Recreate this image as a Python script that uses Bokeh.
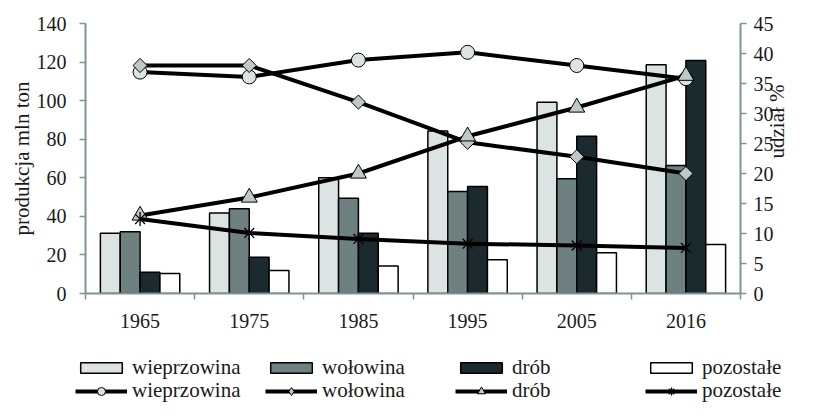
import math
from bokeh.plotting import figure
from bokeh.models import (ColumnDataSource, Range1d, LinearAxis, FixedTicker,
                          Legend, LegendItem)
from bokeh.transform import dodge
from bokeh.embed import file_html
from bokeh.resources import INLINE

# ---- data ----
years = ["1965", "1975", "1985", "1995", "2005", "2016"]
series_names = ["wieprzowina", "wołowina", "drób", "pozostałe"]

# production, mln t (left axis)
prod_wieprzowina = [31.3, 41.8, 60.0, 84.2, 99.2, 118.6]
prod_wolowina = [32.0, 43.9, 49.4, 52.9, 59.5, 66.4]
prod_drob = [11.0, 18.8, 31.3, 55.5, 81.6, 120.8]
prod_pozostale = [10.4, 11.9, 14.2, 17.5, 21.1, 25.4]

# share, % (right axis)
share_wieprzowina = [36.9, 36.1, 38.9, 40.2, 38.0, 35.8]
share_wolowina = [38.0, 38.0, 31.9, 25.2, 22.8, 20.0]
share_drob = [13.0, 16.0, 20.0, 26.2, 31.0, 36.3]
share_pozostale = [12.4, 10.1, 9.1, 8.3, 8.0, 7.6]

left_ticks = [0, 20, 40, 60, 80, 100, 120, 140]
right_ticks = [0, 5, 10, 15, 20, 25, 30, 35, 40, 45]

# ---- styling ----
FONT = "Liberation Serif"
AXIS_COL = "#7f9494"
GRID_COL = "#9aabab"
TXT = "#1a1a1a"
bar_fills = ["#dce3e3", "#6e8080", "#1b2a2e", "#ffffff"]
plot_markers = [
    dict(marker="circle", size=14, fill_color="#dde3e3", angle=0),
    dict(marker="square", size=10, fill_color="#bfc8c8", angle=math.pi / 4),
    dict(marker="triangle", size=16, fill_color="#bfc8c8", angle=0),
]
legend_markers = [
    dict(marker="circle", size=14, fill_color="#dde3e3", angle=0),
    dict(marker="diamond", size=14, fill_color="#bfc8c8", angle=0),
    dict(marker="triangle", size=16, fill_color="#bfc8c8", angle=0),
]

n = len(years)
centers = [i + 0.5 for i in range(n)]
data = dict(
    x=centers, wiep=prod_wieprzowina, wol=prod_wolowina, drob=prod_drob,
    poz=prod_pozostale, s_wiep=share_wieprzowina, s_wol=share_wolowina,
    s_drob=share_drob, s_poz=share_pozostale)
src = ColumnDataSource(data)

W = 803
MAIN_H = 337
LEG_H = 403 - MAIN_H

p = figure(width=W, height=MAIN_H, output_backend="svg", toolbar_location=None,
           x_range=Range1d(0, n), y_range=Range1d(0, 140),
           min_border_left=85, min_border_right=54, min_border_top=23,
           min_border_bottom=44, x_axis_type=None, y_axis_type=None)
p.outline_line_color = None
p.background_fill_color = "white"
p.border_fill_color = "white"
p.extra_y_ranges = {"pct": Range1d(0, 45)}

# axes
xaxis = LinearAxis(ticker=FixedTicker(ticks=centers, minor_ticks=list(range(n + 1))),
                   major_label_overrides={c: y for c, y in zip(centers, years)})
xaxis.major_tick_out = 0
xaxis.major_tick_in = 0
xaxis.minor_tick_out = 6
xaxis.minor_tick_in = 0
p.add_layout(xaxis, "below")

yaxis = LinearAxis(ticker=FixedTicker(ticks=left_ticks), axis_label="produkcja mln ton")
yaxis.major_tick_out = 6
yaxis.major_tick_in = 0
yaxis.minor_tick_out = 0
p.add_layout(yaxis, "left")

raxis = LinearAxis(y_range_name="pct", ticker=FixedTicker(ticks=right_ticks), axis_label="udział %")
raxis.major_tick_out = 6
raxis.major_tick_in = 0
raxis.minor_tick_out = 0
raxis.axis_label_orientation = math.pi / 2
p.add_layout(raxis, "right")

for ax in (xaxis, yaxis, raxis):
    ax.axis_line_color = AXIS_COL
    ax.axis_line_width = 2
    ax.major_tick_line_color = AXIS_COL
    ax.major_tick_line_width = 1.5
    ax.minor_tick_line_color = AXIS_COL
    ax.minor_tick_line_width = 1.5
    ax.major_label_text_font = FONT
    ax.major_label_text_font_size = "20px"
    ax.major_label_text_color = TXT
    ax.axis_label_text_font = FONT
    ax.axis_label_text_font_size = "21px"
    ax.axis_label_text_font_style = "normal"
    ax.axis_label_text_color = TXT
xaxis.major_label_standoff = 14
yaxis.major_label_standoff = 13
yaxis.axis_label_standoff = 0
raxis.major_label_standoff = 7
raxis.axis_label_standoff = 0

p.ygrid.ticker = FixedTicker(ticks=left_ticks)
p.ygrid.grid_line_color = GRID_COL
p.ygrid.grid_line_width = 1.5
p.xgrid.grid_line_color = None

bw = 1.0 / 5.5
offsets = [-1.5 * bw, -0.5 * bw, 0.5 * bw, 1.5 * bw]
fields = ["wiep", "wol", "drob", "poz"]
share_fields = ["s_wiep", "s_wol", "s_drob", "s_poz"]


def draw_series(fig, source, yname, markers, star_parts):
    bars = []
    for f, off, col in zip(fields, offsets, bar_fills):
        r = fig.vbar(x=dodge("x", off), top=f, width=bw, bottom=0, source=source,
                     fill_color=col, line_color="black", line_width=1.5)
        bars.append(r)
    groups = []
    kw = {} if yname is None else {"y_range_name": yname}
    for i, sf in enumerate(share_fields):
        ln = fig.line("x", sf, source=source, line_color="black", line_width=4, **kw)
        g = [ln]
        if i < 3:
            ms = markers[i]
            g.append(fig.scatter("x", sf, source=source, marker=ms["marker"], size=ms["size"],
                                 angle=ms["angle"], fill_color=ms["fill_color"],
                                 line_color="black", line_width=1, **kw))
        else:
            for mk, ang in star_parts:
                g.append(fig.scatter("x", sf, source=source, marker=mk, size=14, angle=ang,
                                     line_color="black", line_width=1.3, **kw))
        groups.append(g)
    return bars, groups


draw_series(p, src, "pct", plot_markers, [("x", 0), ("dash", math.pi / 2)])

# ---- legend strip: separate root; its renderers hold no drawable values,
# so only the legend (glyph styles + labels) is visible ----
nan_src = ColumnDataSource({k: [float("nan")] for k in data})
lf = figure(width=W, height=LEG_H, output_backend="svg", toolbar_location=None,
            x_range=Range1d(0, 1), y_range=Range1d(0, 1),
            min_border=0, x_axis_type=None, y_axis_type=None)
lf.outline_line_color = None
lf.xgrid.grid_line_color = None
lf.ygrid.grid_line_color = None
lbars, lgroups = draw_series(lf, nan_src, None, legend_markers, [("asterisk", 0)])


def make_legend(items, y, gh):
    lg = Legend(items=items, orientation="horizontal", location=(75, y))
    lg.border_line_color = None
    lg.background_fill_alpha = 0
    lg.padding = 0
    lg.margin = 0
    lg.spacing = 0
    lg.glyph_width = 52
    lg.glyph_height = gh
    lg.label_standoff = 5
    lg.label_width = 133
    lg.label_height = 20
    lg.label_text_font = FONT
    lg.label_text_font_size = "21px"
    lg.label_text_color = TXT
    return lg


leg1 = make_legend([LegendItem(label=nm, renderers=[r]) for nm, r in zip(series_names, lbars)], 23, 13)
leg2 = make_legend([LegendItem(label=nm, renderers=g) for nm, g in zip(series_names, lgroups)], 0, 20)
lf.add_layout(leg1)
lf.add_layout(leg2)

open("out.html", "w").write(file_html([p, lf], INLINE))
